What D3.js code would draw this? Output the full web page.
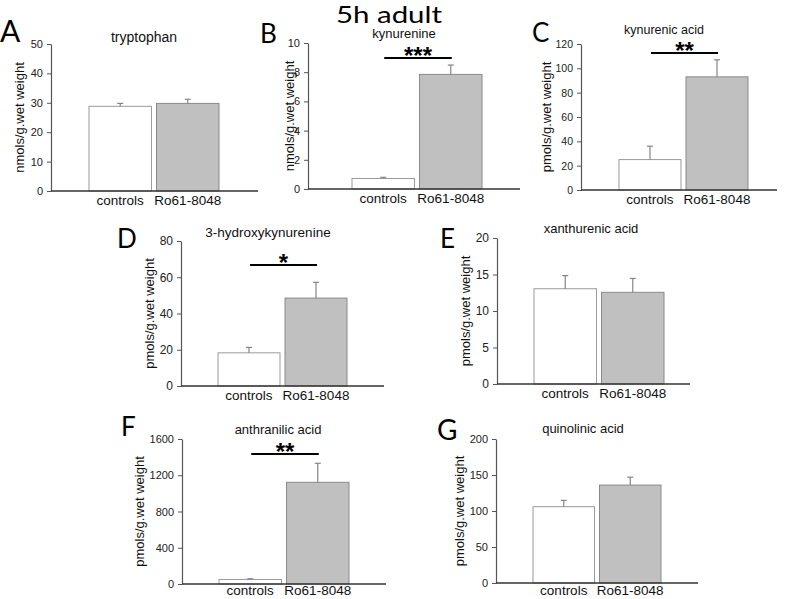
<!DOCTYPE html>
<html><head><meta charset="utf-8">
<script src="https://cdn.jsdelivr.net/npm/d3@7"></script>
<style>body{margin:0;background:#fff}svg{display:block}</style>
</head><body><svg id="c" width="787" height="599"></svg>
<script>
// ---- data ----
const figureTitle = "5h adult";
const categories = ["controls", "Ro61-8048"];
const panelLetters = ["A", "B", "C", "D", "E", "F", "G"];
const analytes = ["tryptophan", "kynurenine", "kynurenic acid", "3-hydroxykynurenine", "xanthurenic acid", "anthranilic acid", "quinolinic acid"];
const units = ["nmols/g.wet weight", "nmols/g.wet weight", "pmols/g.wet weight", "pmols/g.wet weight", "pmols/g.wet weight", "pmols/g.wet weight", "pmols/g.wet weight"];
const controlMeans = [28.8, 0.72, 25, 18.3, 13.05, 50, 106];
const controlErrs  = [1.0, 0.08, 11, 3.0, 1.8, 8, 8.7];
const roMeans      = [29.8, 7.85, 93, 48.5, 12.56, 1122, 136];
const roErrs       = [1.4, 0.64, 14, 8.7, 1.9, 210, 11];
const yMax         = [50, 10, 120, 80, 20, 1600, 200];
const yTicks = [
  [0, 10, 20, 30, 40, 50],
  [0, 2, 4, 6, 8, 10],
  [0, 20, 40, 60, 80, 100, 120],
  [0, 20, 40, 60, 80],
  [0, 5, 10, 15, 20],
  [0, 400, 800, 1200, 1600],
  [0, 50, 100, 150, 200]
];
const significance = ["", "***", "**", "*", "", "**", ""];

// ---- layout (positions only) ----
const layout = [
  {ax: 51,  xEnd: 258, yTop: 44,  yBot: 191, b0: 89,  b1: 219, labX: 21,  tx: 144, titleY: 42,  ts: 14,   lx: 0,   ly: 42,  ls: 30, sigY: 0,   tf: 11},
  {ax: 308, xEnd: 520, yTop: 43,  yBot: 189, b0: 352, b1: 482, labX: 291, tx: 404, titleY: 38,  ts: 13,   lx: 260, ly: 43,  ls: 26, sigY: 58,  tf: 11},
  {ax: 581, xEnd: 777, yTop: 44,  yBot: 190, b0: 619, b1: 748, labX: 548, tx: 664, titleY: 34,  ts: 12.5, lx: 532, ly: 42,  ls: 26, sigY: 53,  tf: 10.5},
  {ax: 181, xEnd: 384, yTop: 241, yBot: 386, b0: 218, b1: 347, labX: 151, tx: 268, titleY: 237, ts: 13.5, lx: 117, ly: 248, ls: 26, sigY: 265, tf: 12},
  {ax: 497, xEnd: 690, yTop: 238, yBot: 384, b0: 534, b1: 664, labX: 467, tx: 591, titleY: 233, ts: 13,   lx: 440, ly: 248, ls: 26, sigY: 0,   tf: 12},
  {ax: 182, xEnd: 386, yTop: 439, yBot: 584, b0: 219, b1: 349, labX: 141, tx: 278, titleY: 434, ts: 13,   lx: 121, ly: 436, ls: 26, sigY: 454, tf: 11},
  {ax: 496, xEnd: 698, yTop: 439, yBot: 583, b0: 533, b1: 661, labX: 461, tx: 583, titleY: 433, ts: 13,   lx: 437, ly: 440, ls: 28, sigY: 0,   tf: 11}
];

const svg = d3.select("#c");
const sans = "'Liberation Sans', Arial, sans-serif";
const big = "Lato, 'Open Sans', sans-serif";

svg.append("text").attr("x", 389).attr("y", 23).attr("text-anchor", "middle")
  .attr("font-family", big).attr("font-size", 23)
  .attr("textLength", 106).attr("lengthAdjust", "spacingAndGlyphs")
  .attr("fill", "#000").text(figureTitle);

layout.forEach((L, i) => {
  const g = svg.append("g");
  const y = d3.scaleLinear().domain([0, yMax[i]]).range([L.yBot, L.yTop]);
  const x = d3.scaleBand().domain(categories).range([L.b0, L.b1]).paddingInner(0.075).paddingOuter(0);
  const means = [controlMeans[i], roMeans[i]];
  const errs = [controlErrs[i], roErrs[i]];

  // bars
  g.selectAll("rect.bar").data(categories).join("rect")
    .attr("x", d => x(d)).attr("width", x.bandwidth())
    .attr("y", (d, j) => y(means[j])).attr("height", (d, j) => L.yBot - y(means[j]))
    .attr("fill", (d, j) => j === 0 ? "#ffffff" : "#c0c0c0")
    .attr("stroke", (d, j) => j === 0 ? "#9a9a9a" : "#8a8a8a").attr("stroke-width", 1);

  // error bars (upper only)
  categories.forEach((c, j) => {
    const cx = x(c) + x.bandwidth() / 2;
    g.append("line").attr("x1", cx).attr("x2", cx).attr("y1", y(means[j])).attr("y2", y(means[j] + errs[j]))
      .attr("stroke", "#858585").attr("stroke-width", 1.2);
    g.append("line").attr("x1", cx - 3).attr("x2", cx + 3).attr("y1", y(means[j] + errs[j])).attr("y2", y(means[j] + errs[j]))
      .attr("stroke", "#858585").attr("stroke-width", 1.2);
  });

  // y axis
  const ya = g.append("g").attr("transform", `translate(${L.ax},0)`)
    .call(d3.axisLeft(y).tickValues(yTicks[i]).tickFormat(d3.format("d")).tickSize(4).tickSizeOuter(0).tickPadding(4));
  ya.select(".domain").attr("stroke", "#555").attr("stroke-width", 1.2);
  ya.selectAll(".tick line").attr("stroke", "#555");
  ya.selectAll(".tick text").attr("font-family", sans).attr("font-size", L.tf).attr("fill", "#222");

  // x axis line
  g.append("line").attr("x1", L.ax).attr("x2", L.xEnd).attr("y1", L.yBot).attr("y2", L.yBot)
    .attr("stroke", "#333").attr("stroke-width", 1.4);

  // category labels
  g.selectAll("text.cat").data(categories).join("text")
    .attr("x", d => x(d) + x.bandwidth() / 2).attr("y", Math.min(L.yBot + 14, 595))
    .attr("text-anchor", "middle").attr("font-family", sans).attr("font-size", 13.5).attr("fill", "#111")
    .text(d => d);

  // y label
  g.append("text").attr("transform", `translate(${L.labX},${(L.yTop + L.yBot) / 2}) rotate(-90)`)
    .attr("text-anchor", "middle").attr("dominant-baseline", "middle")
    .attr("font-family", sans).attr("font-size", 13).attr("fill", "#111").text(units[i]);

  // panel title
  g.append("text").attr("x", L.tx).attr("y", L.titleY)
    .attr("text-anchor", "middle").attr("font-family", sans).attr("font-size", L.ts).attr("fill", "#111")
    .text(analytes[i]);

  // panel letter
  g.append("text").attr("x", L.lx).attr("y", L.ly).attr("font-family", big).attr("font-size", L.ls)
    .attr("fill", "#000").text(panelLetters[i]);

  // significance
  if (significance[i]) {
    const c0 = x(categories[0]) + x.bandwidth() / 2 + 1;
    const c1 = x(categories[1]) + x.bandwidth() / 2 + 1;
    g.append("line").attr("x1", c0).attr("x2", c1).attr("y1", L.sigY).attr("y2", L.sigY)
      .attr("stroke", "#000").attr("stroke-width", 2);
    g.append("text").attr("x", (c0 + c1) / 2).attr("y", L.sigY + 6).attr("text-anchor", "middle")
      .attr("font-family", sans).attr("font-weight", "bold").attr("font-size", 24).attr("fill", "#000")
      .text(significance[i]);
  }
});
</script></body></html>
